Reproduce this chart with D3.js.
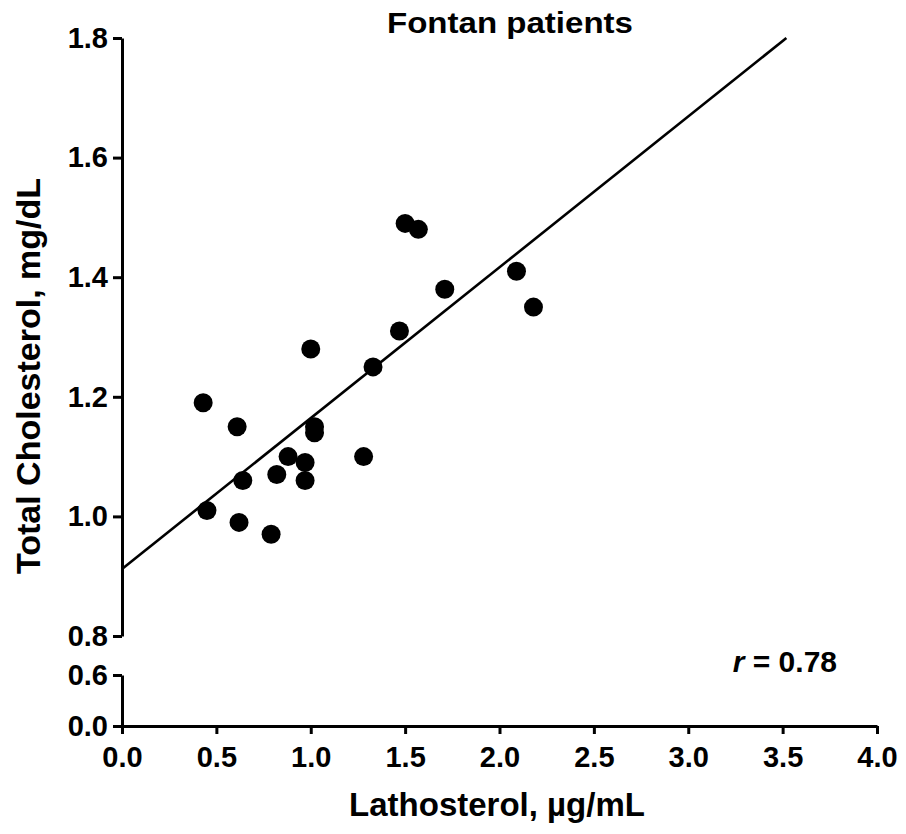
<!DOCTYPE html>
<html><head><meta charset="utf-8">
<script src="https://cdn.jsdelivr.net/npm/d3@7"></script>
<style>
body{margin:0;background:#fff;}
text{font-family:"Liberation Sans",Arial,Helvetica,sans-serif;font-weight:bold;fill:#000;}
</style></head>
<body>
<svg id="chart" width="906" height="834"></svg>
<script>
const lathosterol = [0.43,0.61,0.64,0.45,0.62,0.79,0.82,0.88,0.97,0.97,1.02,1.02,1.00,1.28,1.33,1.47,1.71,1.50,1.57,2.09,2.18];
const cholesterol = [1.19,1.15,1.06,1.01,0.99,0.97,1.07,1.10,1.09,1.06,1.15,1.14,1.28,1.10,1.25,1.31,1.38,1.49,1.48,1.41,1.35];
const fitX = [0, 3.52];
const fitY = [0.912, 1.80];
const xTicks = [0,0.5,1.0,1.5,2.0,2.5,3.0,3.5,4.0];
const yTicksUpper = [0.8,1.0,1.2,1.4,1.6,1.8];
const yTicksLower = [0.0,0.6];
const rText = "0.78";

const svg = d3.select("#chart");
const x = d3.scaleLinear().domain([0,4]).range([122,877]);
const yU = d3.scaleLinear().domain([0.8,1.8]).range([636,38]);
const yL = d3.scaleLinear().domain([0,0.6]).range([726,675]);
const fmt = d3.format(".1f");

function styleAxis(g){
  g.selectAll("path.domain").attr("stroke","#000").attr("stroke-width",3);
  g.selectAll(".tick line").attr("stroke","#000").attr("stroke-width",3);
  g.selectAll(".tick text").style("font-size","29px").style("font-family","'Liberation Sans',Arial,sans-serif").style("font-weight","bold").attr("fill","#000");
}

svg.append("g").attr("transform","translate(122,0)")
  .call(d3.axisLeft(yU).tickValues(yTicksUpper).tickFormat(fmt).tickSize(9).tickSizeOuter(0).tickPadding(5))
  .call(styleAxis);
svg.append("g").attr("transform","translate(122,0)")
  .call(d3.axisLeft(yL).tickValues(yTicksLower).tickFormat(fmt).tickSize(9).tickSizeOuter(0).tickPadding(5))
  .call(styleAxis);
svg.append("g").attr("transform","translate(0,726)")
  .call(d3.axisBottom(x).tickValues(xTicks).tickFormat(fmt).tickSize(8).tickSizeOuter(0).tickPadding(12))
  .call(styleAxis);

// regression line
svg.append("line")
  .attr("x1",x(fitX[0])).attr("y1",yU(fitY[0]))
  .attr("x2",x(fitX[1])).attr("y2",yU(fitY[1]))
  .attr("stroke","#000").attr("stroke-width",2.6);

// points
svg.append("g").selectAll("circle").data(lathosterol.map((v,i)=>[v,cholesterol[i]]))
  .join("circle")
  .attr("cx",d=>x(d[0])).attr("cy",d=>yU(d[1])).attr("r",9.5).attr("fill","#000");

// title
svg.append("text").attr("x",510).attr("y",33).attr("text-anchor","middle")
  .attr("textLength",246).attr("lengthAdjust","spacingAndGlyphs")
  .style("font-size","30px").text("Fontan patients");

// x title
svg.append("text").attr("x",497).attr("y",816).attr("text-anchor","middle")
  .style("font-size","33px").text("Lathosterol, \u00b5g/mL");

// y title
svg.append("text").attr("transform","translate(40,376) rotate(-90)").attr("text-anchor","middle")
  .style("font-size","34px").text("Total Cholesterol, mg/dL");

// r annotation
const rt = svg.append("text").attr("x",837).attr("y",672).attr("text-anchor","end").style("font-size","30px");
rt.append("tspan").style("font-style","italic").text("r");
rt.append("tspan").text(" = " + rText);
</script>
</body></html>
